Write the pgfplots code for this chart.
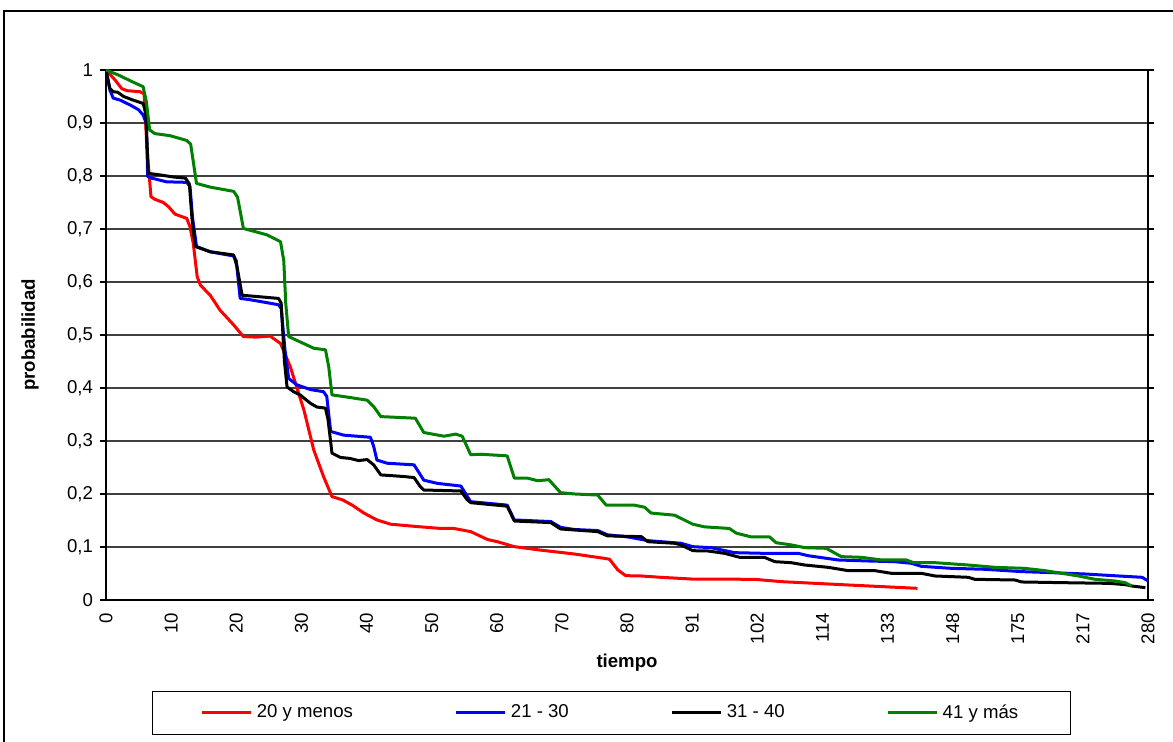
\documentclass[border=0pt]{standalone}
\usepackage{fontspec}
\setmainfont{Liberation Sans}
\usepackage{pgfplots}
\pgfplotsset{compat=1.18}
\definecolor{xlgreen}{RGB}{0,128,0}
\begin{document}
\begin{tikzpicture}
\useasboundingbox (0pt,0pt) rectangle (586.5pt,371pt);
\draw[line width=0.8pt] (2pt,-10pt) rectangle (600pt,365.5pt);
\begin{axis}[
  at={(53pt,71pt)}, anchor=south west,
  scale only axis, width=521pt, height=265pt,
  xmin=0, xmax=160, ymin=0, ymax=1,
  axis line style={black, line width=0.8pt},
  ymajorgrids, major grid style={black!75, line width=0.6pt},
  tick align=outside, major tick length=3pt,
  ytick={0,0.1,0.2,0.3,0.4,0.5,0.6,0.7,0.8,0.9,1},
  yticklabels={0,{0,1},{0,2},{0,3},{0,4},{0,5},{0,6},{0,7},{0,8},{0,9},1},
  xtick={0,10,20,30,40,50,60,70,80,90,100,110,120,130,140,150,160},
  xticklabels={0,10,20,30,40,50,60,70,80,91,102,114,133,148,175,217,280},
  xtick style={draw=none},
  ytick style={black, line width=0.6pt},
  tick label style={font=\fontsize{9.3}{11}\selectfont},
  xticklabel style={rotate=90, anchor=east},
  xlabel={\textbf{tiempo}}, ylabel={\textbf{probabilidad}},
  label style={font=\fontsize{9.3}{11}\selectfont},
  xlabel style={at={(axis description cs:0.5,-0.1189)}, anchor=center},
  ylabel style={at={(axis description cs:-0.0729,0.5)}, anchor=center},
  every axis plot/.append style={line width=1.5pt, line join=round},
  legend columns=4,
  legend image code/.code={\draw[#1] (0pt,0pt) -- (24.5pt,0pt);},
  legend style={at={(0.4851,-0.2132)}, anchor=center, draw=black, line width=0.6pt,
    font=\fontsize{9.3}{11}\selectfont, inner xsep=24pt, inner ysep=4.5pt,
    /tikz/every even column/.append style={column sep=49pt}},
]
\addplot[red] coordinates {(0,1) (1.4,0.981) (2.4,0.965) (3.2,0.961) (5.2,0.959) (5.85,0.955) (6.3,0.85) (6.7,0.792) (6.9,0.761) (7.5,0.756) (8.8,0.75) (9.6,0.742) (10.6,0.728) (12.4,0.72) (12.9,0.704) (13.4,0.673) (14,0.61) (14.5,0.594) (16,0.575) (17.5,0.547) (19.6,0.519) (21.1,0.497) (23,0.496) (25.2,0.498) (26.8,0.484) (28.3,0.44) (30.4,0.358) (31.9,0.283) (33.4,0.233) (34.7,0.195) (36.3,0.189) (37.8,0.179) (39.6,0.164) (41.6,0.151) (43.7,0.143) (48.3,0.138) (51.4,0.135) (53.4,0.135) (56,0.129) (58.6,0.114) (60.1,0.110) (62.7,0.1006) (66.8,0.094) (71.9,0.0868) (76.5,0.0786) (77.3,0.077) (78.6,0.0566) (79.8,0.0459) (82.2,0.0453) (85.2,0.0428) (89.8,0.0396) (99.6,0.039) (103.7,0.0346) (114,0.0283) (124.6,0.022)};
\addlegendentry{20 y menos}
\addplot[blue] coordinates {(0,1) (0.6,0.962) (1.1,0.947) (2.2,0.943) (3.7,0.934) (5.0,0.925) (5.7,0.915) (6.2,0.899) (6.4,0.799) (7.0,0.796) (9.3,0.789) (12.4,0.788) (12.9,0.78) (13.3,0.72) (13.9,0.667) (16,0.657) (19.6,0.649) (20.0,0.64) (20.6,0.569) (21.9,0.567) (24.7,0.561) (26.5,0.557) (26.9,0.55) (27.5,0.47) (28.05,0.418) (29.3,0.406) (31.4,0.397) (33.4,0.393) (33.9,0.384) (34.5,0.318) (36.5,0.311) (40.6,0.307) (41.1,0.29) (41.6,0.264) (43.2,0.258) (47.3,0.255) (48.8,0.226) (50.9,0.220) (54.5,0.215) (55.5,0.195) (56,0.1855) (61.6,0.179) (62.7,0.151) (68.3,0.148) (69.8,0.137) (71.9,0.133) (75.5,0.131) (77,0.123) (80.1,0.119) (83.2,0.112) (87.3,0.108) (88.3,0.107) (90.1,0.1006) (92.9,0.0987) (96.5,0.0893) (101.1,0.088) (106.3,0.088) (107.8,0.0836) (112.4,0.0755) (117,0.0736) (121.1,0.0723) (123.7,0.0692) (125.2,0.0635) (129.8,0.0597) (135,0.0579) (140.6,0.0535) (145.2,0.0516) (150.4,0.049) (155.5,0.0453) (159.1,0.0428) (160,0.036)};
\addlegendentry{21 - 30}
\addplot[black] coordinates {(0,1) (0.6,0.965) (1.1,0.959) (1.8,0.958) (2.7,0.95) (4.2,0.943) (5.7,0.937) (6.1,0.92) (6.5,0.805) (8.3,0.802) (10.4,0.798) (12.2,0.796) (12.8,0.785) (13.2,0.72) (13.7,0.667) (16,0.657) (19.6,0.651) (20.1,0.63) (20.9,0.575) (23.7,0.572) (26.5,0.569) (26.9,0.56) (27.4,0.45) (27.8,0.402) (28.8,0.393) (29.8,0.387) (31.4,0.371) (32.4,0.364) (33.7,0.362) (34.1,0.34) (34.7,0.277) (36,0.269) (37.5,0.267) (38.8,0.263) (40.1,0.265) (41.1,0.255) (42.2,0.236) (45.7,0.233) (47.3,0.231) (48.2,0.215) (48.8,0.2075) (54.5,0.2057) (55.4,0.19) (56,0.1836) (61.6,0.177) (62.7,0.149) (68.3,0.146) (69.8,0.134) (75.5,0.129) (77,0.121) (82.2,0.1195) (83.2,0.110) (87.3,0.107) (88.3,0.104) (90.1,0.093) (92.4,0.0925) (95,0.088) (97.3,0.0805) (101.1,0.0805) (102.7,0.0723) (105.2,0.0704) (107.3,0.066) (110.9,0.0616) (114,0.0553) (118.1,0.0553) (120.6,0.0503) (125.2,0.0503) (127.3,0.0453) (132.4,0.0428) (133.4,0.039) (139.6,0.0377) (140.6,0.034) (146.8,0.0327) (154,0.0314) (156.5,0.029) (157.5,0.0264) (159.6,0.0233)};
\addlegendentry{31 - 40}
\addplot[xlgreen] coordinates {(0,1) (2,0.99) (4,0.978) (5.7,0.9685) (6.2,0.94) (6.7,0.887) (7.5,0.88) (9.85,0.876) (12.4,0.867) (13,0.86) (13.9,0.786) (16,0.779) (19.6,0.771) (20.2,0.76) (21.1,0.701) (24.7,0.689) (26.8,0.676) (27.3,0.64) (27.6,0.56) (28.05,0.497) (29.8,0.487) (31.9,0.475) (33.7,0.472) (34.2,0.44) (34.7,0.387) (37.5,0.382) (40.1,0.377) (41.1,0.365) (42.2,0.346) (47.5,0.343) (48.8,0.316) (51.9,0.309) (53.7,0.313) (54.7,0.309) (56,0.274) (57.5,0.275) (61.6,0.272) (62.7,0.23) (64.7,0.23) (66.3,0.225) (68,0.227) (69.8,0.2025) (72,0.2) (75.5,0.198) (76.8,0.179) (81.1,0.179) (82.7,0.175) (83.7,0.164) (87.3,0.16) (88.8,0.151) (90.1,0.143) (91.9,0.138) (95.7,0.135) (96.8,0.126) (99.1,0.119) (101.9,0.119) (102.9,0.108) (105.2,0.104) (107.3,0.0987) (110.6,0.0975) (112.9,0.0818) (116,0.0805) (119.1,0.0755) (122.9,0.0755) (124,0.0704) (127.3,0.0704) (132.4,0.066) (136.5,0.0616) (141.1,0.0597) (144.2,0.0553) (146.8,0.0503) (149.3,0.0453) (151.9,0.039) (155,0.0358) (156.5,0.0327) (157.5,0.0264)};
\addlegendentry{41 y más}
\end{axis}
\end{tikzpicture}
\end{document}
